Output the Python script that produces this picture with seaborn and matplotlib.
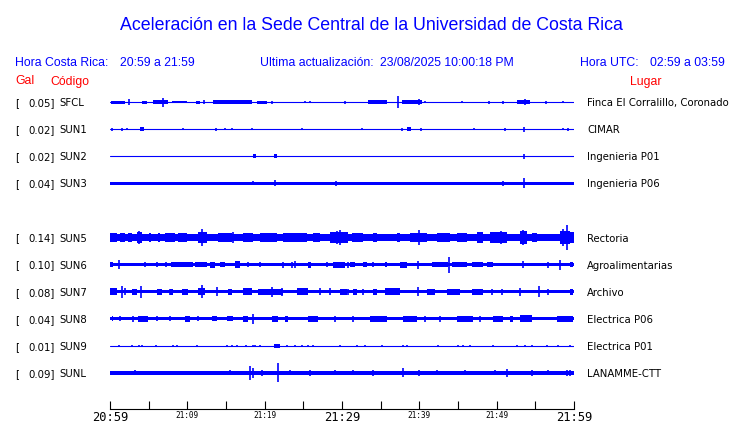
import numpy as np
import pandas as pd
import matplotlib
matplotlib.use("Agg")
import matplotlib.pyplot as plt
import matplotlib.transforms as mtransforms
import seaborn as sns

# ---------------- data ----------------
STATIONS = ["SFCL", "SUN1", "SUN2", "SUN3", "SUN5", "SUN6", "SUN7", "SUN8", "SUN9", "SUNL"]
SLOTS = [0, 1, 2, 3, 5, 6, 7, 8, 9, 10]
GAL = ["0.05", "0.02", "0.02", "0.04", "0.14", "0.10", "0.08", "0.04", "0.01", "0.09"]
PLACES = ["Finca El Corralillo, Coronado", "CIMAR", "Ingenieria P01", "Ingenieria P06",
          "Rectoria", "Agroalimentarias", "Archivo", "Electrica P06", "Electrica P01",
          "LANAMME-CTT"]
# background noise half-amplitude of each trace (relative units)
BASE_AMP = [0.5, 0.5, 0.5, 1.5, 3.0, 1.7, 1.7, 1.5, 0.5, 1.8]

# bursts: (start minute, end minute, half amplitude); spikes: (minute, half amplitude)
SFCL_BURSTS = [(0.1, 1.9, 1.5), (4.1, 4.8, 1.5), (5.6, 7.5, 1.8), (8.0, 10.0, 1.2), (11.1, 11.6, 1.5),
               (13.3, 18.4, 1.8), (19.0, 20.3, 1.5), (33.4, 35.8, 1.8), (37.8, 40.3, 1.8), (52.6, 54.3, 1.8)]
SFCL_SPIKES = [(2.5, 3), (6.9, 4.5), (12.2, 2), (20.9, 1.5), (25.2, 1), (25.9, 1), (30.4, 1.5), (37.2, 5.8),
               (40.0, 3), (40.7, 1), (45.5, 1), (49.0, 1.5), (50.8, 1.5), (53.7, 3), (56.4, 1.5), (58.6, 1.2)]

SUN1_BURSTS = [(3.9, 4.4, 2), (38.4, 38.9, 2)]
SUN1_SPIKES = [(0.3, 1.5), (1.6, 1.5), (2.2, 1), (9.4, 1), (13.7, 1.5), (14.9, 1), (15.8, 1), (18.4, 1),
               (24.8, 1), (32.6, 1), (37.8, 1.5), (40.2, 1.5), (47.1, 1), (51.1, 1.5), (53.5, 2.5),
               (58.6, 1.2), (59.2, 1.5)]

SUN2_BURSTS = [(18.5, 18.9, 2), (21.2, 21.6, 2)]
SUN2_SPIKES = [(53.5, 2.5)]

SUN3_BURSTS = []
SUN3_SPIKES = [(18.5, 2), (21.3, 3), (29.2, 2.5), (50.8, 2.5), (53.5, 5)]

SUN5_BURSTS = [(0.0, 0.9, 4.5), (1.3, 1.9, 4), (2.3, 2.8, 4), (3.5, 4.1, 5), (5.0, 5.3, 4), (6.2, 6.5, 4),
               (7.1, 8.4, 4.5), (8.8, 10.0, 4), (11.4, 12.5, 5), (14.0, 15.8, 4.5), (17.2, 18.5, 4.5),
               (19.4, 21.6, 4), (22.4, 25.5, 4), (26.2, 27.2, 4), (28.4, 30.8, 5), (31.3, 32.7, 4),
               (34.0, 34.5, 4.5), (37.1, 37.5, 4), (38.8, 41.0, 4.5), (42.3, 44.0, 4), (44.9, 46.2, 4.5),
               (47.5, 48.2, 5), (49.1, 51.3, 5.5), (53.0, 53.9, 6), (54.6, 55.2, 4.5), (58.2, 59.5, 6),
               (59.5, 60.0, 5)]
SUN5_SPIKES = [(3.75, 6.5), (11.9, 8), (15.9, 5.5), (29.35, 6), (29.74, 7), (30.1, 5), (40.0, 7.5),
               (48.0, 5.5), (50.6, 6), (53.4, 7.5), (58.6, 8), (59.1, 12)]

SUN6_BURSTS = [(0.0, 0.4, 2.5), (7.9, 10.7, 2.3), (11.0, 12.5, 2.3), (12.9, 13.6, 3), (14.2, 14.9, 2.5),
               (16.2, 16.8, 3.5), (25.6, 26.0, 3), (28.8, 29.7, 3), (29.7, 30.4, 3), (31.0, 31.7, 2.5),
               (32.7, 33.2, 2.5), (35.6, 35.8, 2.5), (37.5, 38.4, 3), (41.6, 43.7, 2.5), (44.2, 46.2, 2.5),
               (46.8, 48.2, 2.5), (48.8, 49.5, 2.5), (59.5, 59.9, 2.5)]
SUN6_SPIKES = [(1.2, 4.5), (4.5, 2.5), (6.1, 2.5), (7.2, 2.5), (17.8, 2.5), (19.4, 2.5), (22.4, 3),
               (23.5, 3), (23.9, 3.5), (28.1, 2.5), (30.8, 3), (34.0, 2.5), (39.8, 4), (43.85, 8),
               (53.4, 3.5), (56.6, 3), (58.2, 5)]

SUN7_BURSTS = [(0.0, 0.9, 3.5), (2.8, 3.5, 3), (6.1, 6.7, 3), (7.8, 8.2, 3), (9.3, 10.1, 3), (11.4, 12.3, 3.5),
               (15.3, 15.8, 3), (17.2, 18.4, 3.5), (19.1, 22.4, 3), (24.2, 25.6, 3.5), (29.7, 30.6, 3),
               (31.4, 31.9, 3), (34.0, 34.5, 3), (35.6, 37.5, 3.5), (41.0, 42.0, 3), (43.6, 45.3, 3),
               (46.8, 48.2, 3), (59.5, 59.9, 3)]
SUN7_SPIKES = [(1.55, 6), (1.9, 3.5), (4.0, 6), (7.8, 3), (11.9, 6.5), (13.8, 4.5), (20.9, 5), (22.2, 4),
               (27.2, 3.5), (28.5, 3.5), (30.8, 3), (32.7, 3), (39.8, 4.5), (49.4, 3), (50.7, 3), (53.0, 4),
               (55.5, 5.5), (56.6, 3)]

SUN8_BURSTS = [(0.2, 0.4, 2.5), (3.6, 4.9, 3), (9.7, 10.3, 2.8), (13.2, 13.8, 2.5), (15.1, 15.9, 2.5),
               (17.2, 17.8, 3), (20.95, 21.7, 3), (22.6, 23.0, 3), (25.6, 26.9, 3), (33.6, 35.8, 3),
               (37.9, 39.7, 3), (44.9, 46.9, 3), (49.5, 50.8, 3), (51.7, 52.1, 3), (53.0, 54.6, 3.5),
               (57.8, 59.9, 3)]
SUN8_SPIKES = [(1.3, 2.5), (3.0, 3), (6.1, 2.5), (7.8, 2.5), (11.4, 2.5), (18.5, 5), (29.1, 3), (31.4, 3),
               (40.7, 3), (42.7, 3), (47.8, 3)]

SUN9_BURSTS = [(21.2, 22.0, 2)]
SUN9_SPIKES = [(1.16, 1.2), (2.84, 1.2), (3.75, 1.2), (4.1, 1.2), (5.95, 1.2), (8.15, 1.2), (8.66, 1.2),
               (11.25, 1.2), (15.13, 1.2), (15.78, 1.2), (16.42, 1.2), (17.59, 1.2), (18.49, 1.2),
               (18.75, 1.2), (19.4, 1.2), (22.89, 1.2), (23.92, 1.2), (24.83, 1.2), (25.6, 1.2),
               (26.25, 1.2), (29.74, 1.2), (31.94, 1.2), (32.97, 1.2), (35.17, 1.2), (37.89, 1.2),
               (38.4, 1.2), (42.41, 1.2), (45.0, 1.2), (45.65, 1.2), (46.55, 1.2), (49.52, 1.2),
               (52.63, 1.2), (53.66, 1.2), (54.57, 1.2), (56.51, 1.2), (57.93, 1.2), (59.48, 1.2)]

SUNL_BURSTS = [(6.1, 7.4, 2)]
SUNL_SPIKES = [(3.2, 2.5), (15.5, 2.5), (18.1, 7), (18.5, 5), (19.6, 3), (21.7, 9.5), (23.3, 2.5), (25.9, 3),
               (29.1, 2.5), (31.4, 2.5), (34.0, 3), (37.9, 4.5), (40.0, 3), (42.3, 2.5), (45.9, 2.5),
               (49.8, 2.5), (51.3, 4), (54.6, 3), (56.6, 2.5), (59.1, 3), (59.5, 3)]

BURSTS = [SFCL_BURSTS, SUN1_BURSTS, SUN2_BURSTS, SUN3_BURSTS, SUN5_BURSTS,
          SUN6_BURSTS, SUN7_BURSTS, SUN8_BURSTS, SUN9_BURSTS, SUNL_BURSTS]
SPIKES = [SFCL_SPIKES, SUN1_SPIKES, SUN2_SPIKES, SUN3_SPIKES, SUN5_SPIKES,
          SUN6_SPIKES, SUN7_SPIKES, SUN8_SPIKES, SUN9_SPIKES, SUNL_SPIKES]

TICK_MINUTES = [0, 10, 20, 30, 40, 50, 60]
MINOR_MINUTES = [5, 15, 25, 35, 45, 55]
TICK_LABELS = ["20:59", "21:09", "21:19", "21:29", "21:39", "21:49", "21:59"]
BIG_LABELS = ["20:59", "21:29", "21:59"]

# ---------------- style ----------------
sns.set_theme(style="white")
plt.rcParams["font.family"] = ["DejaVu Sans"]
BLUE = "#0000ff"
RED = "#ff0000"
HEAD = "Liberation Sans"
W, H = 740, 423
AMP_UNIT = 1 / 27.0   # relative amplitude -> trace spacing

def fx(px):
    return px / W

def fy(py):
    return 1 - py / H

fig = plt.figure(figsize=(7.4, 4.23), dpi=100)
fig.patch.set_facecolor("white")

ax = fig.add_axes([fx(110), fy(386.5), (574 - 110) / W, (386.5 - 88.5) / H])
ax.set_xlim(0, 60)
ax.set_ylim(10.5, -0.5)

# thin baselines via seaborn
thin = [(s, slot) for s, slot, b in zip(STATIONS, SLOTS, BASE_AMP) if b <= 0.5]
df = pd.DataFrame([{"station": s, "minute": m, "slot": slot} for s, slot in thin for m in (0, 60)])
sns.lineplot(data=df, x="minute", y="slot", units="station", estimator=None,
             color=BLUE, lw=0.8, ax=ax, legend=False)

for slot, b, bursts, spikes in zip(SLOTS, BASE_AMP, BURSTS, SPIKES):
    if b > 0.5:
        ax.fill_between([0, 60], slot - b * AMP_UNIT, slot + b * AMP_UNIT, color=BLUE, lw=0)
    for t0, t1, h in bursts:
        ax.fill_between([t0, t1], slot - h * AMP_UNIT, slot + h * AMP_UNIT, color=BLUE, lw=0)
    if spikes:
        ts = [t for t, _ in spikes]
        hs = np.array([h for _, h in spikes]) * AMP_UNIT
        ax.vlines(ts, slot - hs, slot + hs, color=BLUE, lw=1.2)

ax.set_xlim(0, 60)
ax.set_ylim(10.5, -0.5)
ax.axis("off")

# station labels
trans = mtransforms.blended_transform_factory(fig.transFigure, ax.transData)
trans = mtransforms.offset_copy(trans, fig=fig, x=0, y=-4, units="dots")
for slot, g, s, p in zip(SLOTS, GAL, STATIONS, PLACES):
    ax.text(fx(15), slot, "[", transform=trans, ha="left", va="baseline", fontsize=7.3, color="black")
    ax.text(fx(54.5), slot, g + "]", transform=trans, ha="right", va="baseline", fontsize=7.3, color="black")
    ax.text(fx(59), slot, s, transform=trans, ha="left", va="baseline", fontsize=7.3, color="black")
    ax.text(fx(587), slot, p, transform=trans, ha="left", va="baseline", fontsize=7.3, color="black")

# title and header
fig.text(fx(371), fy(30), "Aceleración en la Sede Central de la Universidad de Costa Rica",
         ha="center", va="baseline", fontsize=12.8, color=BLUE, family=HEAD)
fig.text(fx(15), fy(66), "Hora Costa Rica:", ha="left", va="baseline", fontsize=8.8, color=BLUE, family=HEAD)
fig.text(fx(120), fy(66), "20:59 a 21:59", ha="left", va="baseline", fontsize=8.8, color=BLUE, family=HEAD)
fig.text(fx(260), fy(66), "Ultima actualización:", ha="left", va="baseline", fontsize=8.8, color=BLUE, family=HEAD)
fig.text(fx(380), fy(66), "23/08/2025 10:00:18 PM", ha="left", va="baseline", fontsize=8.8, color=BLUE, family=HEAD)
fig.text(fx(580), fy(66), "Hora UTC:", ha="left", va="baseline", fontsize=8.8, color=BLUE, family=HEAD)
fig.text(fx(650), fy(66), "02:59 a 03:59", ha="left", va="baseline", fontsize=8.8, color=BLUE, family=HEAD)
fig.text(fx(15), fy(84.5), "Gal", ha="left", va="baseline", fontsize=8.8, color=RED, family=HEAD)
fig.text(fx(50), fy(84.5), "Código", ha="left", va="baseline", fontsize=8.8, color=RED, family=HEAD)
fig.text(fx(630), fy(84.5), "Lugar", ha="left", va="baseline", fontsize=8.8, color=RED, family=HEAD)

# time axis
tax = fig.add_axes([fx(110), fy(409), (574 - 110) / W, 0.001])
tax.set_xlim(0, 60)
tax.set_facecolor("none")
for side in ("top", "left", "right"):
    tax.spines[side].set_visible(False)
tax.spines["bottom"].set_color("black")
tax.spines["bottom"].set_linewidth(0.8)
tax.set_yticks([])
tax.set_xticks(TICK_MINUTES)
tax.set_xticks(MINOR_MINUTES, minor=True)
tax.set_xticklabels(TICK_LABELS)
tax.tick_params(axis="x", which="both", direction="in", length=6, width=0.8, color="black",
                bottom=True, pad=1.5)
for lab in tax.get_xticklabels():
    lab.set_family("DejaVu Sans Mono")
    lab.set_color("black")
    lab.set_fontsize(8.7 if lab.get_text() in BIG_LABELS else 5.6)

fig.savefig("out.png", dpi=100, facecolor="white")
